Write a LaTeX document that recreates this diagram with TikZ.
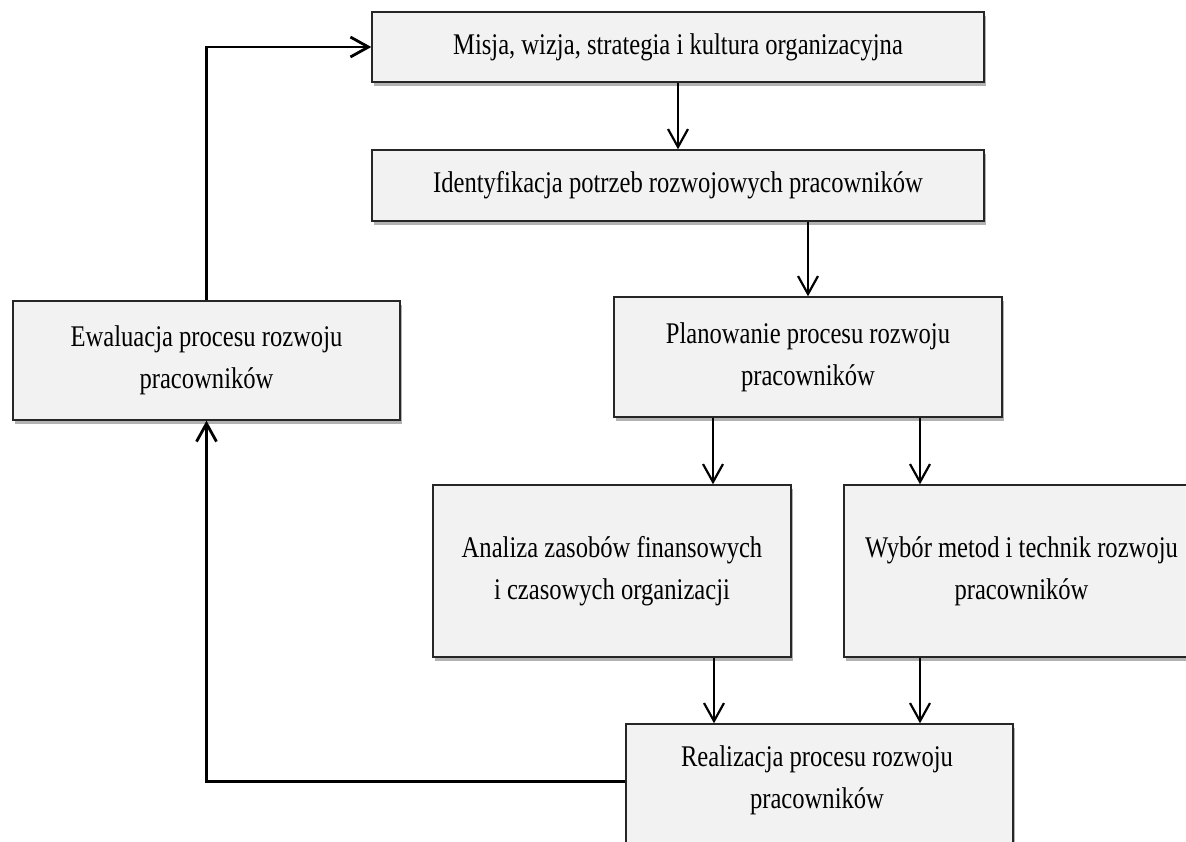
\documentclass[tikz,border=0pt]{standalone}
\usepackage{fontspec}
\setmainfont[FakeStretch=0.82]{Liberation Serif}
\usetikzlibrary{arrows.meta,shadows,calc}
\definecolor{boxfill}{HTML}{F2F2F2}
\begin{document}
\begin{tikzpicture}[x=1pt,y=-1pt,
  boxtext/.style={font=\fontsize{30}{42}\selectfont, align=center},
  box/.style={boxtext, draw=black!85, line width=1.4pt, fill=boxfill, inner sep=0pt,
    drop shadow={shadow xshift=2pt, shadow yshift=-4pt, fill=black, opacity=0.3}},
  arr/.style={line width=2.2pt, -{Straight Barb[length=18pt,width=20pt]}},
  loopline/.style={line width=2.8pt, -{Straight Barb[length=18pt,width=20pt]}}]
\useasboundingbox (0,0) rectangle (1186,841);
\clip (0,0) rectangle (1186,841);
\fill[white] (0,0) rectangle (1186,841);

% process boxes
\node[box, minimum width=612pt, minimum height=70pt] (misja) at (678,47)
  {Misja, wizja, strategia i kultura organizacyjna};
\node[box, minimum width=612pt, minimum height=71pt] (ident) at (678,185.5)
  {Identyfikacja potrzeb rozwojowych pracowników};
\node[box, minimum width=387pt, minimum height=119pt] (ewal) at (206.5,360.5)
  {Ewaluacja procesu rozwoju\\pracowników};
\node[box, minimum width=388pt, minimum height=120pt] (plan) at (808,357)
  {Planowanie procesu rozwoju\\pracowników};
\node[box, minimum width=358pt, minimum height=172pt] (anal) at (612,571)
  {Analiza zasobów finansowych\\i czasowych organizacji};
\node[box, minimum width=355pt, minimum height=172pt] (wybor) at (1021.5,571)
  {Wybór metod i technik rozwoju\\pracowników};
\node[box, minimum width=387pt, minimum height=140pt] (real) at (819.5,794) {};
\node[boxtext, inner sep=0pt] (realtxt) at (817,780)
  {Realizacja procesu rozwoju\\pracowników};

% main flow
\draw[arr] (misja.south) -- (ident.north);
\draw[arr] (plan.north |- ident.south) -- (plan.north);
\draw[arr] ([xshift=-95pt]plan.south) -- ([xshift=-95pt]plan.south |- anal.north);
\draw[arr] ([xshift=112pt]plan.south) -- ([xshift=112pt]plan.south |- wybor.north);
\draw[arr] ([xshift=102pt]anal.south) -- ([xshift=102pt]anal.south |- real.north);
\draw[arr] ([xshift=-101.5pt]wybor.south) -- ([xshift=-101.5pt]wybor.south |- real.north);

% feedback loop
\draw[loopline] ([yshift=-58pt]real.north west) -| (ewal.south);
\draw[loopline] (ewal.north) |- (misja.west);
\end{tikzpicture}
\end{document}
